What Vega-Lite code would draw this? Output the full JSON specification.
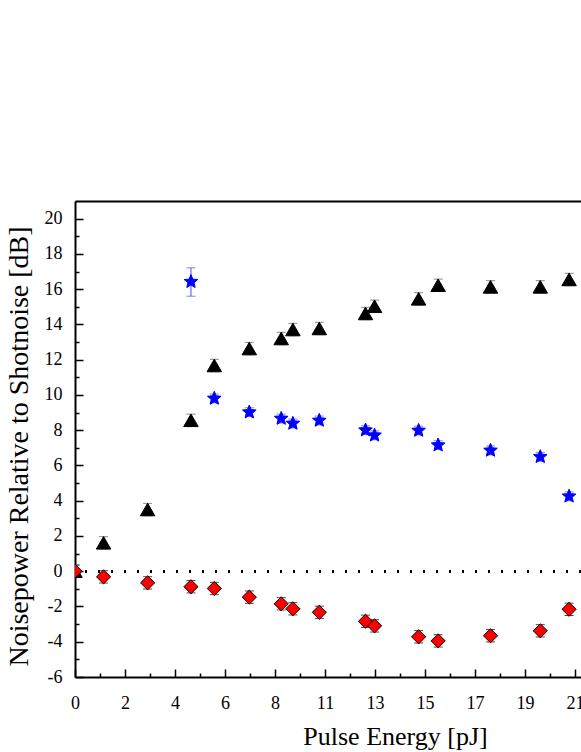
{
  "$schema": "https://vega.github.io/schema/vega-lite/v6.json",
  "width": 506,
  "height": 476,
  "autosize": {"type": "none"},
  "padding": {"left": 75, "top": 201, "right": 0, "bottom": 75},
  "background": "white",
  "config": {"view": {"stroke": null}, "font": "Liberation Serif"},
  "data": {
    "values": [
      {"s": "tri", "x": 0, "y": 0, "lo": -0.35, "hi": 0.35},
      {"s": "tri", "x": 1.2, "y": 1.61, "lo": 1.26, "hi": 1.96},
      {"s": "tri", "x": 3.05, "y": 3.5, "lo": 3.15, "hi": 3.85},
      {"s": "tri", "x": 4.87, "y": 8.56, "lo": 8.21, "hi": 8.91},
      {"s": "tri", "x": 5.85, "y": 11.67, "lo": 11.32, "hi": 12.02},
      {"s": "tri", "x": 7.32, "y": 12.63, "lo": 12.28, "hi": 12.98},
      {"s": "tri", "x": 8.66, "y": 13.2, "lo": 12.85, "hi": 13.55},
      {"s": "tri", "x": 9.15, "y": 13.71, "lo": 13.36, "hi": 14.06},
      {"s": "tri", "x": 10.26, "y": 13.77, "lo": 13.42, "hi": 14.12},
      {"s": "tri", "x": 12.2, "y": 14.62, "lo": 14.27, "hi": 14.97},
      {"s": "tri", "x": 12.58, "y": 15.03, "lo": 14.68, "hi": 15.38},
      {"s": "tri", "x": 14.43, "y": 15.45, "lo": 15.1, "hi": 15.8},
      {"s": "tri", "x": 15.25, "y": 16.22, "lo": 15.87, "hi": 16.57},
      {"s": "tri", "x": 17.45, "y": 16.13, "lo": 15.78, "hi": 16.48},
      {"s": "tri", "x": 19.54, "y": 16.13, "lo": 15.78, "hi": 16.48},
      {"s": "tri", "x": 20.75, "y": 16.55, "lo": 16.2, "hi": 16.9},
      {"s": "star", "x": 4.87, "y": 16.42, "lo": 15.6, "hi": 17.21},
      {"s": "star", "x": 5.85, "y": 9.8, "lo": 9.55, "hi": 10.05},
      {"s": "star", "x": 7.32, "y": 9.02, "lo": 8.77, "hi": 9.27},
      {"s": "star", "x": 8.66, "y": 8.66, "lo": 8.41, "hi": 8.91},
      {"s": "star", "x": 9.15, "y": 8.38, "lo": 8.13, "hi": 8.63},
      {"s": "star", "x": 10.26, "y": 8.55, "lo": 8.3, "hi": 8.8},
      {"s": "star", "x": 12.2, "y": 8.0, "lo": 7.75, "hi": 8.25},
      {"s": "star", "x": 12.58, "y": 7.71, "lo": 7.46, "hi": 7.96},
      {"s": "star", "x": 14.43, "y": 7.98, "lo": 7.73, "hi": 8.23},
      {"s": "star", "x": 15.25, "y": 7.15, "lo": 6.9, "hi": 7.4},
      {"s": "star", "x": 17.45, "y": 6.85, "lo": 6.6, "hi": 7.1},
      {"s": "star", "x": 19.54, "y": 6.49, "lo": 6.24, "hi": 6.74},
      {"s": "star", "x": 20.75, "y": 4.25, "lo": 4.0, "hi": 4.5},
      {"s": "dia", "x": 0, "y": 0, "lo": -0.35, "hi": 0.35},
      {"s": "dia", "x": 1.2, "y": -0.32, "lo": -0.67, "hi": 0.03},
      {"s": "dia", "x": 3.05, "y": -0.66, "lo": -1.01, "hi": -0.31},
      {"s": "dia", "x": 4.87, "y": -0.88, "lo": -1.23, "hi": -0.53},
      {"s": "dia", "x": 5.85, "y": -0.98, "lo": -1.33, "hi": -0.63},
      {"s": "dia", "x": 7.32, "y": -1.47, "lo": -1.82, "hi": -1.12},
      {"s": "dia", "x": 8.66, "y": -1.85, "lo": -2.2, "hi": -1.5},
      {"s": "dia", "x": 9.15, "y": -2.13, "lo": -2.48, "hi": -1.78},
      {"s": "dia", "x": 10.26, "y": -2.33, "lo": -2.68, "hi": -1.98},
      {"s": "dia", "x": 12.2, "y": -2.84, "lo": -3.19, "hi": -2.49},
      {"s": "dia", "x": 12.58, "y": -3.1, "lo": -3.45, "hi": -2.75},
      {"s": "dia", "x": 14.43, "y": -3.72, "lo": -4.07, "hi": -3.37},
      {"s": "dia", "x": 15.25, "y": -3.95, "lo": -4.3, "hi": -3.6},
      {"s": "dia", "x": 17.45, "y": -3.66, "lo": -4.01, "hi": -3.31},
      {"s": "dia", "x": 19.54, "y": -3.38, "lo": -3.73, "hi": -3.03},
      {"s": "dia", "x": 20.75, "y": -2.16, "lo": -2.51, "hi": -1.81}
    ]
  },
  "layer": [
    {
      "mark": {"type": "rule", "strokeDash": [2, 11], "strokeWidth": 2, "color": "black"},
      "encoding": {
        "y": {"datum": 0, "type": "quantitative", "scale": {"domain": [-6, 21], "nice": false, "zero": false}, "axis": null}
      }
    },
    {
      "mark": {"type": "rule", "strokeWidth": 1, "clip": true},
      "encoding": {
        "x": {"field": "x", "type": "quantitative", "scale": {"domain": [0, 21.25], "nice": false, "zero": false}, "axis": null},
        "y": {"field": "lo", "type": "quantitative", "scale": {"domain": [-6, 21], "nice": false, "zero": false}, "axis": null},
        "y2": {"field": "hi"},
        "color": {"field": "s", "type": "nominal", "scale": {"domain": ["tri", "star", "dia"], "range": ["#555555", "#4a4aff", "#000000"]}, "legend": null}
      }
    },
    {
      "mark": {"type": "tick", "orient": "horizontal", "size": 9, "thickness": 1, "clip": true},
      "encoding": {
        "x": {"field": "x", "type": "quantitative", "axis": null},
        "y": {"field": "lo", "type": "quantitative", "axis": null},
        "color": {"field": "s", "type": "nominal", "scale": {"domain": ["tri", "star", "dia"], "range": ["#555555", "#4a4aff", "#000000"]}, "legend": null}
      }
    },
    {
      "mark": {"type": "tick", "orient": "horizontal", "size": 9, "thickness": 1, "clip": true},
      "encoding": {
        "x": {"field": "x", "type": "quantitative", "axis": null},
        "y": {"field": "hi", "type": "quantitative", "axis": null},
        "color": {"field": "s", "type": "nominal", "scale": {"domain": ["tri", "star", "dia"], "range": ["#555555", "#4a4aff", "#000000"]}, "legend": null}
      }
    },
    {
      "mark": {"type": "point", "filled": true, "opacity": 1, "strokeWidth": 1, "clip": true},
      "encoding": {
        "x": {
          "field": "x", "type": "quantitative",
          "axis": {
            "orient": "bottom",
            "values": [0, 2.1, 4.2, 6.3, 8.4, 10.5, 12.6, 14.7, 16.8, 18.9, 21],
            "format": ".0f",
            "tickSize": -8, "tickWidth": 1.5, "tickColor": "black",
            "domainColor": "black", "domainWidth": 2,
            "labelFont": "Liberation Serif", "labelFontSize": 18, "labelColor": "black", "labelPadding": 25,
            "labelFlush": false, "labelOverlap": false, "grid": false,
            "title": "Pulse Energy [pJ]", "titleFont": "Liberation Serif", "titleFontSize": 26, "titleFontWeight": "normal", "titleColor": "black",
            "titleX": 320, "titleY": 67, "titleBaseline": "alphabetic", "titleAlign": "center"
          }
        },
        "y": {
          "field": "y", "type": "quantitative",
          "axis": {
            "orient": "left",
            "values": [-6, -4, -2, 0, 2, 4, 6, 8, 10, 12, 14, 16, 18, 20],
            "labelExpr": "datum.value + ''",
            "tickSize": -8, "tickWidth": 1.5, "tickColor": "black",
            "domainColor": "black", "domainWidth": 2,
            "labelFont": "Liberation Serif", "labelFontSize": 18, "labelColor": "black", "labelPadding": 21,
            "labelFlush": false, "labelOverlap": false, "grid": false,
            "title": "Noisepower Relative to Shotnoise [dB]", "titleFont": "Liberation Serif", "titleFontSize": 28, "titleFontWeight": "normal", "titleColor": "black",
            "titleX": -48, "titleY": 245, "titleBaseline": "alphabetic", "titleAlign": "center", "titleAngle": -90
          }
        },
        "shape": {"field": "s", "type": "nominal", "scale": {"domain": ["tri", "star", "dia"], "range": ["triangle-up", "M0,-1L0.265,-0.364L0.951,-0.309L0.428,0.139L0.588,0.809L0,0.45L-0.588,0.809L-0.428,0.139L-0.951,-0.309L-0.265,-0.364Z", "diamond"]}, "legend": null},
        "size": {"field": "s", "type": "ordinal", "scale": {"domain": ["tri", "star", "dia"], "range": [210, 200, 196]}, "legend": null},
        "fill": {"field": "s", "type": "nominal", "scale": {"domain": ["tri", "star", "dia"], "range": ["#000000", "#0000ff", "#ff0000"]}, "legend": null},
        "stroke": {"field": "s", "type": "nominal", "scale": {"domain": ["tri", "star", "dia"], "range": ["#000000", "#0000ff", "#000000"]}, "legend": null}
      }
    },
    {
      "mark": {"type": "point", "opacity": 0},
      "encoding": {
        "x": {
          "field": "x", "type": "quantitative",
          "axis": {"orient": "bottom", "values": [1.05, 3.15, 5.25, 7.35, 9.45, 11.55, 13.65, 15.75, 17.85, 19.95], "tickSize": -4, "tickWidth": 1.5, "tickColor": "black", "labels": false, "domain": false, "grid": false, "title": null}
        },
        "y": {
          "field": "y", "type": "quantitative",
          "axis": {"orient": "left", "values": [-5, -3, -1, 1, 3, 5, 7, 9, 11, 13, 15, 17, 19], "tickSize": -4, "tickWidth": 1.5, "tickColor": "black", "labels": false, "domain": false, "grid": false, "title": null}
        }
      }
    },
    {
      "mark": {"type": "point", "opacity": 0},
      "encoding": {
        "x": {
          "field": "x", "type": "quantitative",
          "axis": {"orient": "top", "ticks": false, "labels": false, "domain": true, "domainColor": "black", "domainWidth": 2, "grid": false, "title": null}
        },
        "y": {"field": "y", "type": "quantitative", "axis": null}
      }
    }
  ],
  "resolve": {"axis": {"x": "independent", "y": "independent"}}
}
